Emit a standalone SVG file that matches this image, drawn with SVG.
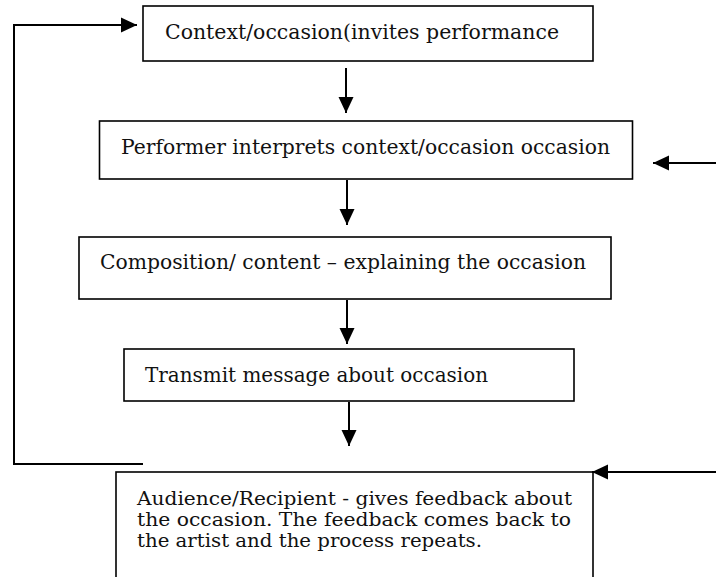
<svg xmlns="http://www.w3.org/2000/svg" width="716" height="577" viewBox="0 0 716 577">
<style>
.box{fill:#fff;stroke:#000;stroke-width:1.6}
.t{font-family:"DejaVu Serif","Liberation Serif",serif;font-size:20px;fill:#111}
.s{font-size:18.5px}
.c{fill:none;stroke:#000;stroke-width:2}
</style>
<defs>
<marker id="ah" markerUnits="userSpaceOnUse" markerWidth="16" markerHeight="16" viewBox="0 0 16 16" refX="16" refY="8" orient="auto">
<path d="M0,0.5 L16,8 L0,15.5 Z" fill="#000"/>
</marker>
</defs>
<rect width="716" height="577" fill="#fff"/>
<g id="n1">
<rect class="box" x="143" y="6" width="450" height="55"/>
<text class="t" x="165" y="39" textLength="394" lengthAdjust="spacingAndGlyphs">Context/occasion(invites performance</text>
</g>
<g id="n2">
<rect class="box" x="99.5" y="121" width="533" height="58"/>
<text class="t" x="121" y="154" textLength="489" lengthAdjust="spacingAndGlyphs">Performer interprets context/occasion occasion</text>
</g>
<g id="n3">
<rect class="box" x="79" y="237" width="532" height="62"/>
<text class="t" x="100" y="269" textLength="486" lengthAdjust="spacingAndGlyphs">Composition/ content – explaining the occasion</text>
</g>
<g id="n4">
<rect class="box" x="124" y="349" width="450" height="52"/>
<text class="t" x="145" y="382" textLength="343" lengthAdjust="spacingAndGlyphs">Transmit message about occasion</text>
</g>
<g id="n5">
<rect class="box" x="116" y="472" width="477" height="120"/>
<text class="t s" x="137" y="505" textLength="435" lengthAdjust="spacingAndGlyphs">Audience/Recipient - gives feedback about</text>
<text class="t s" x="137" y="526" textLength="434" lengthAdjust="spacingAndGlyphs">the occasion. The feedback comes back to</text>
<text class="t s" x="137" y="547" textLength="345" lengthAdjust="spacingAndGlyphs">the artist and the process repeats.</text>
</g>
<g id="connectors">
<path class="c" d="M346,68 V113" marker-end="url(#ah)"/>
<path class="c" d="M347,180 V225" marker-end="url(#ah)"/>
<path class="c" d="M347,300 V344" marker-end="url(#ah)"/>
<path class="c" d="M349,402 V446" marker-end="url(#ah)"/>
<path class="c" d="M716,163 H653" marker-end="url(#ah)"/>
<path class="c" d="M716,472 H592" marker-end="url(#ah)"/>
<path class="c" d="M143,464 H14 V25 H137" marker-end="url(#ah)"/>
</g>
</svg>
